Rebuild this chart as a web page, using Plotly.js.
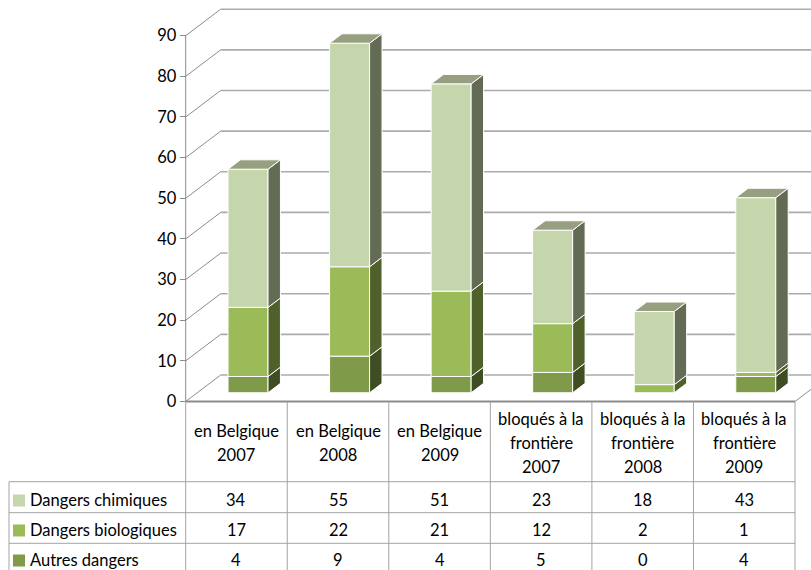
<!DOCTYPE html>
<html>
<head>
<meta charset="utf-8">
<script src="https://cdn.plot.ly/plotly-3.0.1.min.js"></script>
<style>html,body{margin:0;padding:0;background:#fff;}#chart{width:811px;height:570px;}</style>
</head>
<body>
<div id="chart"></div>
<script>
// ---- data ----
const categories = [
  ["en Belgique", "2007"],
  ["en Belgique", "2008"],
  ["en Belgique", "2009"],
  ["bloqués à la", "frontière", "2007"],
  ["bloqués à la", "frontière", "2008"],
  ["bloqués à la", "frontière", "2009"]
];
const seriesNames = ["Dangers chimiques", "Dangers biologiques", "Autres dangers"];
const chimiques   = [34, 55, 51, 23, 18, 43];
const biologiques = [17, 22, 21, 12, 2, 1];
const autres      = [4, 9, 4, 5, 0, 4];
const yTicks = [0, 10, 20, 30, 40, 50, 60, 70, 80, 90];

// ---- styles / geometry ----
const W = 811, H = 570;
const AX_PX = 185.7, CAT_PX = 101.55, Y0_PX = 401.5, UNIT_PX = (401.5 - 35.7) / 90;
const xr = [-AX_PX / CAT_PX, (W - AX_PX) / CAT_PX];
const yr = [-(H - Y0_PX) / UNIT_PX, Y0_PX / UNIT_PX];
const py = p => (Y0_PX - p) / UNIT_PX;
const px = p => (p - AX_PX) / CAT_PX;
const DXu = 35 / CAT_PX, DYu = 26.5 / UNIT_PX;
const F0 = 0.33, F1 = 0.685, BW = 40 / CAT_PX;
const NC = categories.length;

const stack = [
  {name: seriesNames[2], vals: autres,      front: "#7F9A48", side: "#3F4D23", top: "#6E7F48"},
  {name: seriesNames[1], vals: biologiques, front: "#9BBB59", side: "#4F602B", top: "#7E9950"},
  {name: seriesNames[0], vals: chimiques,   front: "#C5D6AC", side: "#646B55", top: "#979F80"}
];
const legendOrder = [2, 1, 0]; // table rows: chimiques, biologiques, autres

const floorY = F0 * DYu;
const ddx = (F1 - F0) * DXu, ddy = (F1 - F0) * DYu;
const centers = categories.map((c, i) => i + 0.5 + F0 * DXu);

const traces = [];
const cum = new Array(NC).fill(0);
const sideTraces = [];
stack.forEach(s => {
  const bases = s.vals.map((v, i) => floorY + cum[i]);
  traces.push({
    type: "bar", x: centers, y: s.vals, base: bases, width: BW,
    marker: {color: s.front, line: {color: "#ffffff", width: 1}},
    hoverinfo: "skip", showlegend: false
  });
  const sx = [], sy = [];
  s.vals.forEach((v, i) => {
    if (v <= 0) return;
    const xR = centers[i] + BW / 2, b = bases[i], t = bases[i] + v;
    sx.push(xR, xR + ddx, xR + ddx, xR, xR, null);
    sy.push(b, b + ddy, t + ddy, t, b, null);
  });
  sideTraces.push({
    type: "scatter", mode: "lines", x: sx, y: sy, fill: "toself",
    fillcolor: s.side, line: {color: "#ffffff", width: 1},
    hoverinfo: "skip", showlegend: false
  });
  s.vals.forEach((v, i) => cum[i] += v);
});
// top faces (top of topmost segment = chimiques)
const tx = [], ty = [];
cum.forEach((tot, i) => {
  const xL = centers[i] - BW / 2, xR = centers[i] + BW / 2, T = floorY + tot;
  tx.push(xL, xR, xR + ddx, xL + ddx, xL, null);
  ty.push(T, T, T + ddy, T + ddy, T, null);
});
sideTraces.push({
  type: "scatter", mode: "lines", x: tx, y: ty, fill: "toself",
  fillcolor: stack[2].top, line: {color: "#ffffff", width: 1},
  hoverinfo: "skip", showlegend: false
});
traces.push(...sideTraces);

// ---- gridlines (3D walls) ----
const shapes = [];
yTicks.forEach(v => {
  shapes.push({type: "line", xref: "x", yref: "y", layer: "below",
    x0: DXu, y0: v + DYu, x1: NC + DXu, y1: v + DYu,
    line: {color: "#ABABAB", width: 1.6}});
  shapes.push({type: "line", xref: "x", yref: "y", layer: "below",
    x0: 0, y0: v, x1: DXu, y1: v + DYu,
    line: {color: "#8C8C8C", width: 1}});
});
shapes.push({type: "line", xref: "x", yref: "y", layer: "below",
  x0: 0, y0: 0, x1: 0, y1: yTicks[yTicks.length - 1], line: {color: "#8C8C8C", width: 1}});
shapes.push({type: "line", xref: "x", yref: "y", layer: "below",
  x0: NC, y0: 0, x1: NC + DXu, y1: DYu, line: {color: "#8C8C8C", width: 1}});
shapes.push({type: "line", xref: "x", yref: "y", layer: "above",
  x0: 0, y0: 0, x1: NC, y1: 0, line: {color: "#8C8C8C", width: 2}});

// ---- data table ----
const tblLeft = px(9);
const headerBottom = py(481.7);
const rowLines = [py(481.7), py(512.7), py(543.3)];
const rowCenters = [py(500), py(530), py(560)];
const lineCol = "#A3A3A3";
for (let i = 0; i <= NC; i++) {
  shapes.push({type: "line", xref: "x", yref: "y", x0: i, x1: i, y0: 0, y1: yr[0],
    line: {color: lineCol, width: 1}});
}
shapes.push({type: "line", xref: "x", yref: "y", x0: tblLeft, x1: tblLeft, y0: headerBottom, y1: yr[0],
  line: {color: lineCol, width: 1}});
rowLines.forEach(y => shapes.push({type: "line", xref: "x", yref: "y",
  x0: tblLeft, x1: NC, y0: y, y1: y, line: {color: lineCol, width: 1}}));

const font = {family: "Lato, 'Open Sans', sans-serif", size: 16.5, color: "#000"};
const annotations = [];
const lineH = 24 / UNIT_PX;
categories.forEach((lines, i) => {
  const mid = py(442.5);
  const n = lines.length;
  lines.forEach((t, k) => {
    annotations.push({xref: "x", yref: "y", x: i + 0.5, y: mid + ((n - 1) / 2 - k) * lineH,
      text: t, showarrow: false, xanchor: "center", yanchor: "middle", font: font});
  });
});
legendOrder.forEach((si, r) => {
  const s = stack[si];
  const yc = rowCenters[r];
  annotations.push({xref: "x", yref: "y", x: px(28), y: yc, text: s.name, showarrow: false,
    xanchor: "left", yanchor: "middle", font: font});
  shapes.push({type: "rect", xref: "x", yref: "y", x0: px(13), x1: px(25),
    y0: yc - 6.5 / UNIT_PX, y1: yc + 5.5 / UNIT_PX, fillcolor: s.front, line: {width: 0}});
  s.vals.forEach((v, i) => {
    annotations.push({xref: "x", yref: "y", x: i + 0.5, y: yc, text: String(v), showarrow: false,
      xanchor: "center", yanchor: "middle", font: font});
  });
});

const layout = {
  width: W, height: H,
  margin: {l: 0, r: 0, t: 0, b: 0, pad: 0},
  paper_bgcolor: "#ffffff", plot_bgcolor: "#ffffff",
  barmode: "overlay",
  xaxis: {range: xr, visible: false, fixedrange: true},
  yaxis: {range: yr, anchor: "free", position: AX_PX / W, tickvals: yTicks,
    ticks: "outside", ticklen: 6, tickcolor: "#8C8C8C", showgrid: false, zeroline: false,
    showline: false, fixedrange: true, automargin: false,
    tickfont: {family: "Lato, 'Open Sans', sans-serif", size: 16.5, color: "#000"}},
  shapes: shapes,
  annotations: annotations,
  showlegend: false
};
Plotly.newPlot("chart", traces, layout, {displayModeBar: false, staticPlot: true});
</script>
</body>
</html>
